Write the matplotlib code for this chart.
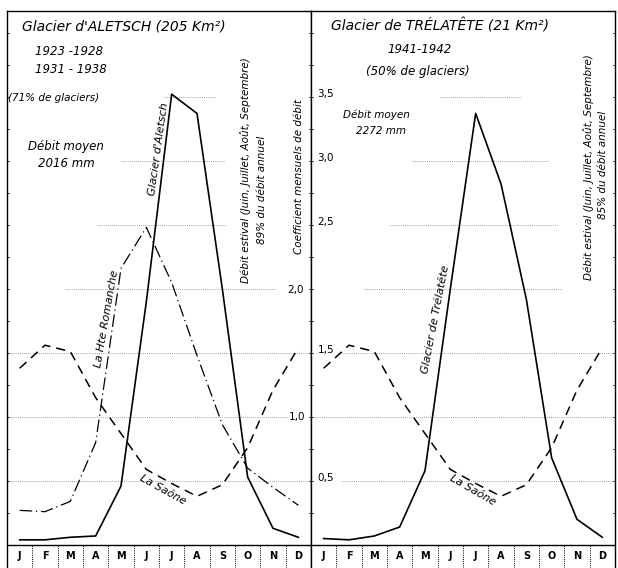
import numpy as np
import matplotlib
matplotlib.use('Agg')
import matplotlib.pyplot as plt

# mois et coefficients mensuels de débit
months = ['J', 'F', 'M', 'A', 'M', 'J', 'J', 'A', 'S', 'O', 'N', 'D']
aletsch = [0.04, 0.04, 0.06, 0.07, 0.46, 1.90, 3.52, 3.37, 2.00, 0.53, 0.13, 0.06]
romanche = [0.27, 0.26, 0.34, 0.80, 2.16, 2.48, 2.05, 1.48, 0.94, 0.60, 0.45, 0.31]
saone = [1.38, 1.56, 1.51, 1.15, 0.87, 0.59, 0.48, 0.38, 0.47, 0.76, 1.21, 1.54]
trelatete = [0.05, 0.04, 0.07, 0.14, 0.58, 2.00, 3.37, 2.82, 1.92, 0.68, 0.20, 0.06]

# lignes de rappel (valeur, début, fin) pour chaque panneau
grid_left = [(3.5, 5.7, 7.7), (3.0, 4.0, 8.1), (2.5, 3.05, 8.1), (2.0, 1.8, 10.1),
             (1.5, -0.5, 11.5), (1.0, -0.5, 10.6), (0.5, -0.5, 11.5)]
grid_right = [(3.5, 4.6, 7.8), (3.0, 3.5, 8.9), (2.5, 2.6, 9.2), (2.0, 1.6, 9.4),
              (1.5, 0.6, 11.5), (1.0, -0.5, 11.5), (0.5, 0.7, 11.5)]

plt.rcParams['font.family'] = ['DejaVu Sans']
fig = plt.figure(figsize=(6.18, 5.68), dpi=100)

W, H = 618.0, 568.0
ymin, ymax = -0.18, 4.17
ax1 = fig.add_axes([7 / W, 0, 304 / W, 557 / H])
ax2 = fig.add_axes([311 / W, 0, 304 / W, 557 / H])

x = np.arange(12)
ital = dict(style='italic', color='black')


def setup(ax, grid):
    ax.set_xlim(-0.5, 11.5)
    ax.set_ylim(ymin, ymax)
    ax.set_xticks([])
    ax.set_yticks([])
    ax.spines['bottom'].set_visible(False)
    for s in ['top', 'left', 'right']:
        ax.spines[s].set_linewidth(1.0)
    ax.axhline(0, color='black', lw=1.0)
    for b in np.arange(0.5, 11, 1.0):
        ax.plot([b, b], [ymin, 0], color='black', lw=0.7, ls=(0, (1, 1.2)))
    for i, m in enumerate(months):
        ax.text(i, -0.09, m, ha='center', va='center', fontsize=7, fontweight='bold')
    for v, a, b in grid:
        ax.plot([a, b], [v, v], color='0.5', lw=0.6, ls=(0, (1, 1.5)))
    # petites graduations sur les bords
    for yv in np.arange(0.25, 4.1, 0.25):
        ax.plot([-0.5, -0.43], [yv, yv], color='black', lw=0.5)
        ax.plot([11.43, 11.5], [yv, yv], color='black', lw=0.5)


setup(ax1, grid_left)
setup(ax2, grid_right)

# panneau gauche
ax1.plot(x, aletsch, color='black', lw=1.2)
ax1.plot(x, romanche, color='black', lw=0.9, ls=(0, (10, 3, 1, 3)))
ax1.plot(x, saone, color='black', lw=1.1, ls=(0, (6, 4)))

ax1.text(0.09, 4.05, "Glacier d'ALETSCH (205 Km²)", fontsize=10, ha='left', va='center', **ital)
ax1.text(0.6, 3.85, "1923 -1928", fontsize=8.5, ha='left', va='center', **ital)
ax1.text(0.6, 3.71, "1931 - 1938", fontsize=8.5, ha='left', va='center', **ital)
ax1.text(-0.46, 3.49, "(71% de glaciers)", fontsize=7.5, ha='left', va='center', **ital)
ax1.text(0.33, 3.11, "Débit moyen", fontsize=8.5, ha='left', va='center', **ital)
ax1.text(0.72, 2.98, "2016 mm", fontsize=8.5, ha='left', va='center', **ital)
ax1.text(5.5, 3.09, "Glacier d'Aletsch", fontsize=8, rotation=82, ha='center', va='center', **ital)
ax1.text(3.45, 1.77, "La Hte Romanche", fontsize=8, rotation=80, ha='center', va='center', **ital)
ax1.text(8.9, 2.93, "Débit estival (Juin, Juillet, Août, Septembre)", fontsize=7.5,
         rotation=90, ha='center', va='center', **ital)
ax1.text(9.57, 2.77, "89% du débit annuel", fontsize=7.5, rotation=90, ha='center', va='center', **ital)
ax1.text(11.03, 2.875, "Coefficient mensuels de débit", fontsize=7.5, rotation=90,
         ha='center', va='center', **ital)
ax1.text(5.66, 0.43, "La Saône", fontsize=8, rotation=-29, ha='center', va='center', **ital)
ax1.text(10.9, 1.99, "2,0", fontsize=7.5, ha='center', va='center')
ax1.text(10.95, 1.0, "1,0", fontsize=7.5, ha='center', va='center')

# panneau droit
ax2.plot(x, trelatete, color='black', lw=1.2)
ax2.plot(x, saone, color='black', lw=1.1, ls=(0, (6, 4)))

ax2.text(0.29, 4.05, "Glacier de TRÉLATÊTE (21 Km²)", fontsize=10, ha='left', va='center', **ital)
ax2.text(3.8, 3.87, "1941-1942", fontsize=8.5, ha='center', va='center', **ital)
ax2.text(3.72, 3.70, "(50% de glaciers)", fontsize=8.5, ha='center', va='center', **ital)
ax2.text(0.76, 3.36, "Débit moyen", fontsize=7.5, ha='left', va='center', **ital)
ax2.text(1.28, 3.23, "2272 mm", fontsize=7.5, ha='left', va='center', **ital)
ax2.text(4.4, 1.76, "Glacier de Trélatête", fontsize=8, rotation=79, ha='center', va='center', **ital)
ax2.text(10.44, 2.95, "Débit estival (Juin, Juillet, Août, Septembre)", fontsize=7.5,
         rotation=90, ha='center', va='center', **ital)
ax2.text(11.03, 2.97, "85% du débit annuel", fontsize=7.5, rotation=90, ha='center', va='center', **ital)
ax2.text(5.9, 0.43, "La Saône", fontsize=8, rotation=-30, ha='center', va='center', **ital)
for lab, yv in [("3,5", 3.5), ("3,0", 3.0), ("2,5", 2.5), ("1,5", 1.5), ("0,5", 0.5)]:
    ax2.text(-0.25, yv + 0.02, lab, fontsize=7.5, ha='left', va='center')

fig.savefig('out.png', dpi=100)
